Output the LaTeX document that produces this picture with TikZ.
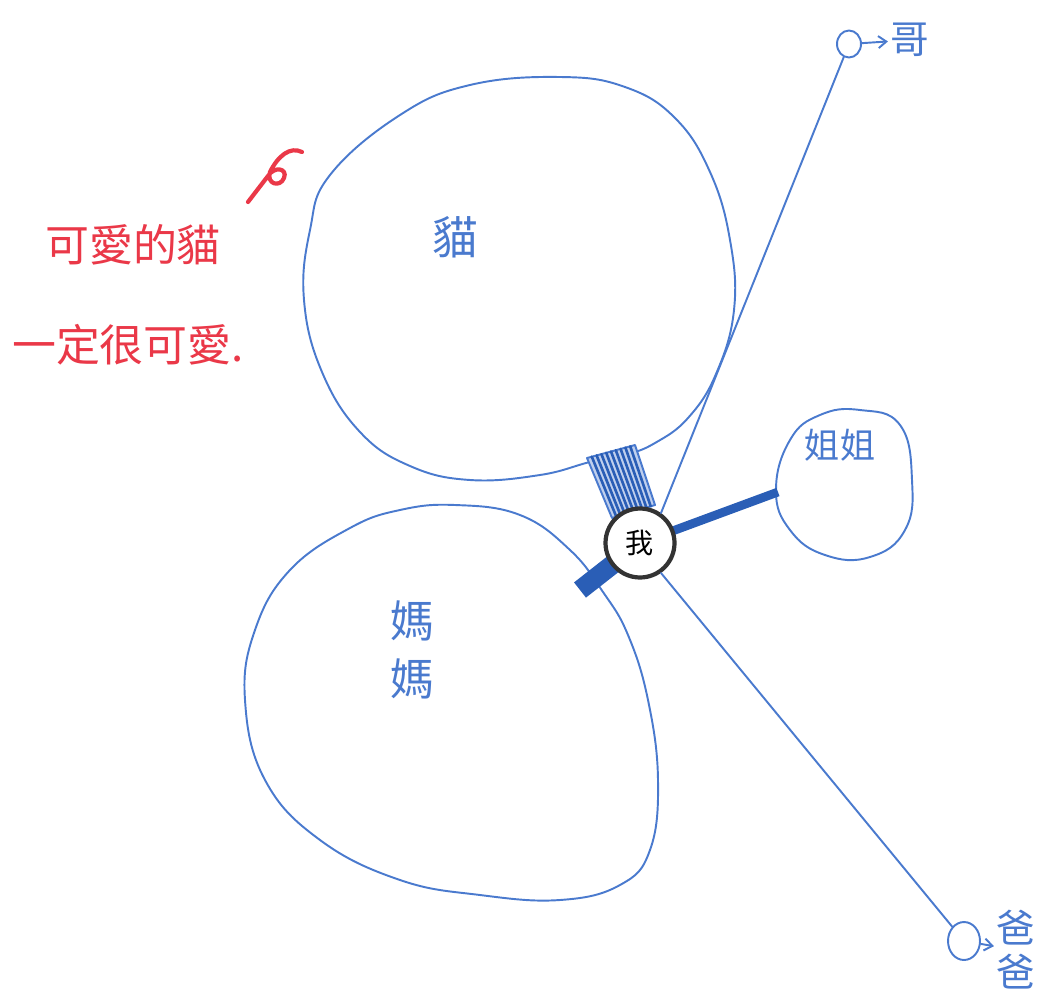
\documentclass[tikz,border=0pt]{standalone}
\usepackage{fontspec}
\newfontfamily\cjk{Noto Sans CJK TC}
\usetikzlibrary{arrows.meta,calc,shapes.geometric}
\definecolor{pen}{RGB}{74,122,206}
\definecolor{inkdark}{RGB}{42,94,182}
\definecolor{redpen}{RGB}{234,56,72}

\begin{document}
\begin{tikzpicture}[x=0.02cm, y=-0.02cm, line width=1.1pt, line join=round, line cap=round,
        every node/.append style={font=\cjk, text=pen, inner sep=1pt}]
      \tikzstyle{blobline} = [draw=pen, line width=1.1pt]
      \tikzstyle{hand} = [font=\cjk\fontsize{26}{30}\selectfont]
      \tikzstyle{redhand} = [font=\cjk\fontsize{25}{30}\selectfont, text=redpen]
      \tikzstyle{self} = [circle, draw=black!80, line width=2.4pt, fill=white,
        minimum size=1.38cm, text=black, font=\cjk\fontsize{16}{18}\selectfont]
      \tikzstyle{ring} = [ellipse, draw=pen, line width=1.1pt, inner sep=0pt]
      \useasboundingbox (0,0) rectangle (1044,997);
      % cat
      \draw[blobline] plot[smooth cycle, tension=0.7] coordinates {(330,175) (400,115) (470,85)
        (560,77) (625,87) (675,118) (710,172) (730,240) (734,310) (716,374) (688,418) (655,443)
        (625,455) (590,462) (540,475) (470,480) (410,466) (360,432) (322,372) (304,300) (310,230)};
      % mom
      \draw[blobline] plot[smooth cycle, tension=0.7] coordinates {(455,505) (520,515) (570,550)
        (603,592) (628,635) (648,700) (658,780) (650,850) (620,885) (560,900) (480,895) (400,880)
        (320,840) (265,780) (245,700) (255,630) (290,570) (350,528) (400,510)};
      % sister
      \draw[blobline] plot[smooth cycle, tension=0.75] coordinates {(790,440) (820,415) (860,410)
        (900,425) (912,480) (905,530) (870,557) (825,555) (790,530) (776,490)};
      \node (cat) [hand] at (455,237) {貓};
      \node (mom) [hand, align=center, font=\cjk\fontsize{25}{33}\selectfont] at (412,650) {媽\\媽};
      \node (sister) [font=\cjk\fontsize{20}{24}\selectfont] at (840,445) {姐姐};
      % links to me
      \coordinate (mid) at (640,543);
      \coordinate (sisterEdge) at (778,492);
      \coordinate (momEdge) at (580,590);
      \coordinate (hA) at (587,458);
      \coordinate (hB) at (635,445);
      \coordinate (hC) at (655,505);
      \coordinate (hD) at (612,518);
      \filldraw[fill=pen!35, draw=pen] (hA) -- (hB) -- (hC) -- (hD) -- cycle;
      \foreach \t in {0.1,0.2,...,0.95}
        \draw[inkdark, line width=1.5pt] ($(hA)!\t!(hB)$) -- ($(hD)!\t!(hC)$);
      \draw[inkdark, line width=5pt, line cap=butt] (mid) -- (sisterEdge);
      \draw[inkdark, line width=11pt, line cap=butt] (mid) -- (momEdge);
      \node (me) [self] at (mid) {我};
      % brother and dad
      \node (gege) [ring, minimum width=0.48cm, minimum height=0.54cm] at (849,44) {};
      \node (baba) [ring, minimum width=0.64cm, minimum height=0.76cm] at (964,941) {};
      \node (geText) [hand, font=\cjk\fontsize{22}{26}\selectfont] at (910,40) {哥};
      \node (baText) [hand, align=center, font=\cjk\fontsize{22}{25}\selectfont] at (1016,950) {爸\\爸};
      \draw[pen] (me.55) -- (gege);
      \draw[pen] (me.-55) -- (baba);
      \draw[pen, -{Straight Barb[length=1.6mm, width=2.4mm]}] (gege) -- (geText);
      \draw[pen, -{Straight Barb[length=1.6mm, width=2.4mm]}] (baba) -- (baText);
      % red note
      \node (cuteA) [redhand] at (133,245) {可愛的貓};
      \node (cuteB) [redhand] at (128,345) {一定很可愛.};
      \draw[redpen, line width=2.4pt] (248,202) -- (268,176)
        .. controls (274,166) and (288,168) .. (284,178)
        .. controls (280,188) and (266,184) .. (270,172)
        .. controls (278,156) and (290,146) .. (302,152);
    \end{tikzpicture}
\end{document}
